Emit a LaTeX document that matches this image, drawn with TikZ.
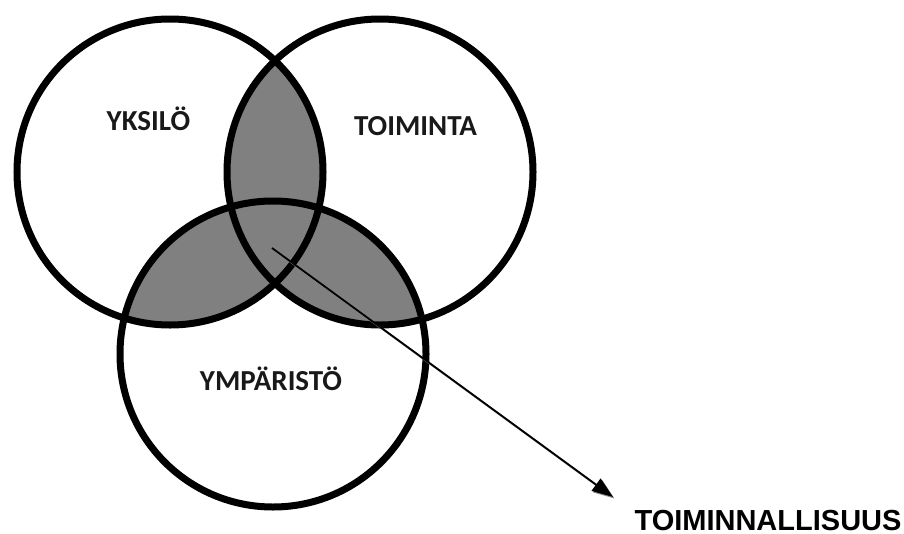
\documentclass[tikz,border=0pt]{standalone}
\usepackage{fontspec}
\newfontfamily\calibri{Carlito}
\newfontfamily\arial{Liberation Sans}
\usetikzlibrary{arrows.meta}
\tikzset{
  ring/.style={draw=black,line width=7pt,circle,minimum size=306pt,inner sep=0pt},
  lbl/.style={font=\calibri\bfseries\fontsize{29}{32}\selectfont,text=black!90,inner sep=0pt,anchor=base},
  biglbl/.style={font=\arial\bfseries\fontsize{29}{32}\selectfont,text=black,inner sep=0pt,anchor=base},
  shade/.style={fill=black!50},
  pointer/.style={line width=1.8pt,-{Triangle[length=21pt,width=15pt]}},
}
\begin{document}
\begin{tikzpicture}[x=1pt,y=-1pt]
\useasboundingbox (0,0) rectangle (904,533);
\fill[white] (0,0) rectangle (904,533);
% pairwise intersections
\begin{scope}
  \clip (170,172) circle[radius=153pt];
  \fill[shade] (380,172) circle[radius=153pt];
  \fill[shade] (273,354) circle[radius=153pt];
\end{scope}
\begin{scope}
  \clip (380,172) circle[radius=153pt];
  \fill[shade] (273,354) circle[radius=153pt];
\end{scope}
% circles
\node[ring] (yksilo) at (170,172) {};
\node[ring] (toiminta) at (380,172) {};
\node[ring] (ymparisto) at (273,354) {};
% labels
\node[lbl] (lyk) at (148.5,130) {YKSILÖ};
\node[lbl] (lto) at (415.5,135) {TOIMINTA};
\node[lbl] (lym) at (271,390) {YMPÄRISTÖ};
\node[biglbl] (ltn) at (768,530) {TOIMINNALLISUUS};
% arrow
\coordinate (start) at (272,248);
\coordinate (tip) at (613,497);
\draw[pointer,draw=black!45,fill=black!45,color=black!45] ([shift={(1.5,1.5)}]start) -- ([shift={(1.5,1.5)}]tip);
\draw[pointer] (start) -- (tip);
\end{tikzpicture}
\end{document}
